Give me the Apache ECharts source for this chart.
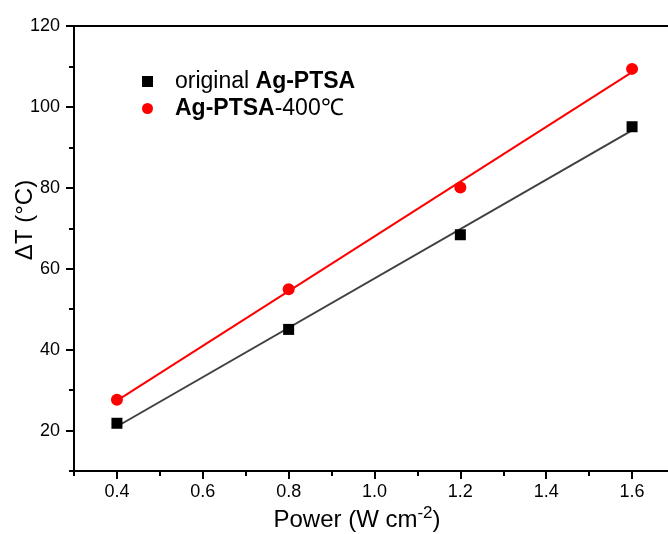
<!DOCTYPE html>
<html>
<head>
<meta charset="utf-8">
<script src="https://cdn.jsdelivr.net/npm/echarts@6/dist/echarts.min.js"></script>
<style>html,body{margin:0;padding:0;background:#fff;}#c{width:668px;height:534px;}</style>
</head>
<body>
<div id="c"></div>
<script>
const xValues = [0.4, 0.8, 1.2, 1.6];
const originalY = [21.8, 45.0, 68.4, 95.1];
const annealedY = [27.6, 54.9, 80.1, 109.4];
const fitX = [0.4, 1.6];
const originalFitY = [21.0, 94.2];
const annealedFitY = [27.4, 108.6];
const xTicks = [0.4, 0.6, 0.8, 1.0, 1.2, 1.4, 1.6];
const xMinorTicks = [0.3, 0.5, 0.7, 0.9, 1.1, 1.3, 1.5, 1.7];
const yTicks = [20, 40, 60, 80, 100, 120];
const yMinorTicks = [10, 30, 50, 70, 90, 110];
const seriesNames = ['original', 'annealed'];

const FONT = '"Liberation Sans", Arial, sans-serif';
const pair = (xs, ys) => xs.map((x, i) => [x, ys[i]]);

const chart = echarts.init(document.getElementById('c'), null, {renderer: 'canvas'});
const axisLine = {show: true, onZero: false, lineStyle: {color: '#000', width: 2}};
chart.setOption({
  animation: false,
  backgroundColor: '#fff',
  grid: {left: 74, width: 601, top: 26, height: 445, outerBoundsMode: 'none', containLabel: false,
         show: true, borderColor: '#000', borderWidth: 2, backgroundColor: 'transparent'},
  xAxis: [{
    type: 'value', min: 0.3, max: 1.7, position: 'bottom',
    axisLine: axisLine,
    axisTick: {show: true, inside: false, length: 8, lineStyle: {color: '#000', width: 2}, customValues: xTicks},
    axisLabel: {customValues: xTicks, formatter: v => v.toFixed(1), color: '#000', fontFamily: FONT, fontSize: 18, margin: 12},
    splitLine: {show: false}
  }, {
    type: 'value', min: 0.3, max: 1.7, position: 'bottom',
    axisLine: {show: false},
    axisTick: {show: true, inside: false, length: 5, lineStyle: {color: '#000', width: 2}, customValues: xMinorTicks},
    axisLabel: {show: false},
    splitLine: {show: false}
  }],
  yAxis: [{
    type: 'value', min: 10, max: 120, position: 'left',
    axisLine: axisLine,
    axisTick: {show: true, inside: false, length: 8, lineStyle: {color: '#000', width: 2}, customValues: yTicks},
    axisLabel: {customValues: yTicks, color: '#000', fontFamily: FONT, fontSize: 18, margin: 14},
    splitLine: {show: false}
  }, {
    type: 'value', min: 10, max: 120, position: 'left',
    axisLine: {show: false},
    axisTick: {show: true, inside: false, length: 5, lineStyle: {color: '#000', width: 2}, customValues: yMinorTicks},
    axisLabel: {show: false},
    splitLine: {show: false}
  }],
  legend: {
    orient: 'vertical', left: 137, top: 65, itemWidth: 11, itemHeight: 11, itemGap: 4,
    selectedMode: false,
    data: [{name: seriesNames[0], icon: 'rect'}, {name: seriesNames[1], icon: 'circle'}],
    formatter: name => name === seriesNames[0] ? '{n|original }{b|Ag-PTSA}' : '{b|Ag-PTSA}{n|-400℃}',
    textStyle: {
      padding: [0, 0, 0, 17],
      rich: {
        n: {fontFamily: FONT, fontSize: 23, color: '#000', lineHeight: 25},
        b: {fontFamily: FONT, fontSize: 23, fontWeight: 'bold', color: '#000', lineHeight: 25}
      }
    }
  },
  graphic: [
    {type: 'text', x: 25, y: 220, rotation: Math.PI / 2,
     style: {text: 'ΔT (°C)', font: '24px ' + FONT, fill: '#000', textAlign: 'center', textVerticalAlign: 'middle'}},
    {type: 'text', x: 357, y: 520,
     style: {text: '{a|Power (W cm}{s|-2}{a|)}', textAlign: 'center', textVerticalAlign: 'middle',
       rich: {a: {font: '24px ' + FONT, fill: '#000'}, s: {font: '17px ' + FONT, fill: '#000', padding: [0, 0, 14, 0]}}}}
  ],
  series: [
    {name: 'fitOriginal', type: 'line', data: pair(fitX, originalFitY), symbol: 'none', lineStyle: {color: '#404040', width: 2}, z: 1, silent: true},
    {name: 'fitAnnealed', type: 'line', data: pair(fitX, annealedFitY), symbol: 'none', lineStyle: {color: '#ff0000', width: 2}, z: 1, silent: true},
    {name: seriesNames[0], type: 'scatter', data: pair(xValues, originalY), symbol: 'rect', symbolSize: 11, itemStyle: {color: '#000', opacity: 1}, z: 3},
    {name: seriesNames[1], type: 'scatter', data: pair(xValues, annealedY), symbol: 'circle', symbolSize: 12, itemStyle: {color: '#ff0000', opacity: 1}, z: 3}
  ]
});
</script>
</body>
</html>
